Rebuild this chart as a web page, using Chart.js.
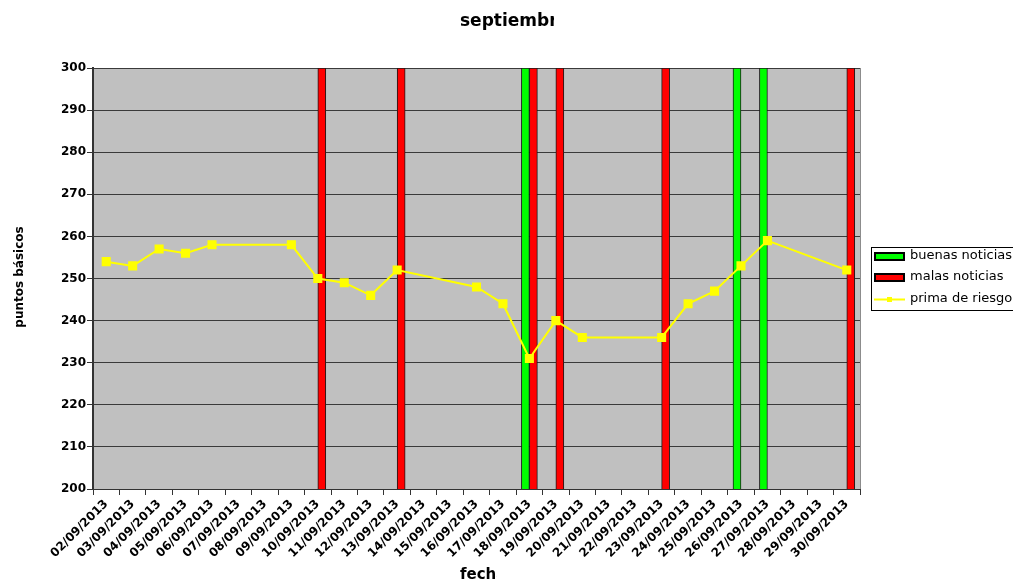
<!DOCTYPE html>
<html>
<head>
<meta charset="utf-8">
<script src="https://cdn.jsdelivr.net/npm/chart.js@4/dist/chart.umd.min.js"></script>
<style>
  html, body { margin: 0; padding: 0; background: #ffffff; }
  #wrap { width: 1013px; height: 581px; position: relative; }
</style>
</head>
<body>
<div id="wrap"><canvas id="grafico"></canvas></div>
<script>
// Días de septiembre 2013 (eje de categorías)
const fechas = [
  '02/09/2013','03/09/2013','04/09/2013','05/09/2013','06/09/2013','07/09/2013',
  '08/09/2013','09/09/2013','10/09/2013','11/09/2013','12/09/2013','13/09/2013',
  '14/09/2013','15/09/2013','16/09/2013','17/09/2013','18/09/2013','19/09/2013',
  '20/09/2013','21/09/2013','22/09/2013','23/09/2013','24/09/2013','25/09/2013',
  '26/09/2013','27/09/2013','28/09/2013','29/09/2013','30/09/2013'
];

// Días con buenas noticias (barra hasta el techo del eje)
const buenasNoticias = [
  null,null,null,null,null,null,null,null,null,null,null,null,null,null,null,null,
  300,null,null,null,null,null,null,null,300,300,null,null,null
];

// Días con malas noticias
const malasNoticias = [
  null,null,null,null,null,null,null,null,300,null,null,300,null,null,null,null,
  300,300,null,null,null,300,null,null,null,null,null,null,300
];

// Prima de riesgo en puntos básicos (sin dato en fines de semana)
const primaDeRiesgo = [
  254,253,257,256,258,null,null,258,250,249,246,252,null,null,248,244,
  231,240,236,null,null,236,244,247,253,259,null,null,252
];

// Escala vertical
const yMin = 200;
const yMax = 300;
const yPaso = 10;

const textos = {
  titulo: 'septiembre',
  ejeX: 'fecha',
  ejeY: 'puntos básicos'
};

const fuente = '"DejaVu Sans", Verdana, sans-serif';

// Fondo gris del área de trazado y marco derecho
const fondoArea = {
  id: 'fondoArea',
  beforeDraw(chart) {
    const { ctx, chartArea: a } = chart;
    ctx.save();
    ctx.fillStyle = '#c0c0c0';
    ctx.fillRect(a.left, a.top, a.right - a.left, a.bottom - a.top);
    ctx.restore();
  },
  afterDatasetsDraw(chart) {
    const { ctx, chartArea: a } = chart;
    ctx.save();
    ctx.strokeStyle = '#8c8c8c';
    ctx.lineWidth = 1;
    ctx.beginPath();
    ctx.moveTo(a.right + 0.5, a.top);
    ctx.lineTo(a.right + 0.5, a.bottom);
    ctx.stroke();
    ctx.restore();
  }
};

// Títulos (recortados por el marco del gráfico) y leyenda lateral
const rotulos = {
  id: 'rotulos',
  afterDraw(chart) {
    const ctx = chart.ctx;
    ctx.save();
    ctx.fillStyle = '#000000';

    // Título
    ctx.save();
    ctx.beginPath();
    ctx.rect(0, 0, 554, 60);
    ctx.clip();
    ctx.font = 'bold 17px ' + fuente;
    ctx.textAlign = 'left';
    ctx.textBaseline = 'alphabetic';
    ctx.fillText(textos.titulo, 460, 26);
    ctx.restore();

    // Título del eje X
    ctx.save();
    ctx.beginPath();
    ctx.rect(0, 560, 497, 21);
    ctx.clip();
    ctx.font = 'bold 15px ' + fuente;
    ctx.textAlign = 'left';
    ctx.textBaseline = 'alphabetic';
    ctx.fillText(textos.ejeX, 460, 579);
    ctx.restore();

    // Título del eje Y
    ctx.save();
    ctx.translate(23, 277);
    ctx.rotate(-Math.PI / 2);
    ctx.font = 'bold 12px ' + fuente;
    ctx.textAlign = 'center';
    ctx.textBaseline = 'alphabetic';
    ctx.fillText(textos.ejeY, 0, 0);
    ctx.restore();

    // Leyenda
    const ds = chart.data.datasets;
    const lx = 871, ly = 247, lh = 63;
    ctx.fillStyle = '#ffffff';
    ctx.fillRect(lx, ly, 200, lh);
    ctx.strokeStyle = '#000000';
    ctx.lineWidth = 1;
    ctx.strokeRect(lx + 0.5, ly + 0.5, 200, lh);

    const filas = [256, 277, 299];
    ctx.font = '13px ' + fuente;
    ctx.textAlign = 'left';
    ctx.textBaseline = 'middle';
    ds.forEach((d, i) => {
      const y = filas[i];
      if (d.type === 'line') {
        ctx.strokeStyle = d.borderColor;
        ctx.lineWidth = 2;
        ctx.beginPath();
        ctx.moveTo(874, y + 0.5);
        ctx.lineTo(905, y + 0.5);
        ctx.stroke();
        ctx.fillStyle = d.pointBackgroundColor;
        ctx.fillRect(887, y - 2, 5, 5);
      } else {
        ctx.fillStyle = d.backgroundColor;
        ctx.fillRect(874, y - 4, 31, 8);
        ctx.strokeStyle = '#000000';
        ctx.lineWidth = 2;
        ctx.strokeRect(875, y - 3, 29, 7);
      }
      ctx.fillStyle = '#000000';
      ctx.fillText(d.label, 910, y);
    });
    ctx.restore();
  }
};

new Chart(document.getElementById('grafico'), {
  data: {
    labels: fechas,
    datasets: [
      {
        type: 'bar',
        label: 'buenas noticias',
        data: buenasNoticias,
        backgroundColor: '#00ff00',
        borderColor: '#1a1a1a',
        borderWidth: 1,
        barThickness: 8,
        order: 1
      },
      {
        type: 'bar',
        label: 'malas noticias',
        data: malasNoticias,
        backgroundColor: '#ff0000',
        borderColor: '#1a1a1a',
        borderWidth: 1,
        barThickness: 8,
        order: 1
      },
      {
        type: 'line',
        label: 'prima de riesgo',
        data: primaDeRiesgo,
        borderColor: '#ffff00',
        backgroundColor: '#ffff00',
        pointBackgroundColor: '#ffff00',
        pointBorderColor: '#ffff00',
        pointStyle: 'rect',
        pointRadius: 5,
        borderWidth: 2,
        tension: 0,
        spanGaps: true,
        order: 0
      }
    ]
  },
  options: {
    responsive: true,
    maintainAspectRatio: false,
    animation: false,
    events: [],
    layout: { padding: { top: 68, right: 153, left: 0, bottom: 0 } },
    plugins: {
      legend: { display: false },
      title: { display: false },
      tooltip: { enabled: false }
    },
    scales: {
      x: {
        type: 'category',
        offset: true,
        grid: {
          offset: true,
          drawOnChartArea: false,
          drawTicks: true,
          tickLength: 6,
          tickColor: '#333333'
        },
        border: { display: true, color: '#333333', width: 1 },
        ticks: {
          autoSkip: false,
          minRotation: 45,
          maxRotation: 45,
          padding: 2,
          color: '#000000',
          font: { family: fuente, size: 12, weight: 'bold' }
        },
        afterFit(scale) { scale.height = 92; }
      },
      y: {
        min: yMin,
        max: yMax,
        grid: {
          color: '#3a3a3a',
          lineWidth: 1,
          drawTicks: true,
          tickLength: 6,
          tickColor: '#333333'
        },
        border: { display: true, color: '#333333', width: 2 },
        ticks: {
          stepSize: yPaso,
          padding: 1,
          color: '#000000',
          font: { family: fuente, size: 12, weight: 'bold' }
        },
        afterFit(scale) { scale.width = 93; }
      }
    }
  },
  plugins: [fondoArea, rotulos]
});
</script>
</body>
</html>
